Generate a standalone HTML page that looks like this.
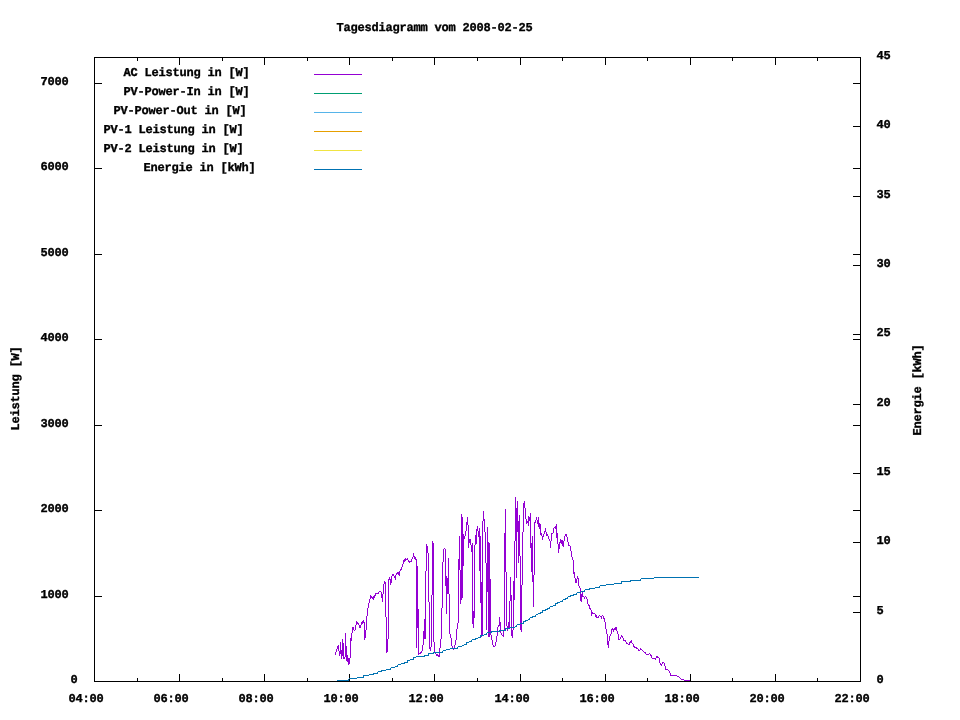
<!DOCTYPE html>
<html lang="de"><head><meta charset="utf-8"><title>Tagesdiagramm vom 2008-02-25</title>
<style>
html,body{margin:0;padding:0;background:#fff;}
body{width:960px;height:720px;overflow:hidden;}
svg{display:block;}
text{font-family:"Liberation Mono","DejaVu Sans Mono",monospace;font-weight:bold;font-size:12px;letter-spacing:-0.2012px;fill:#000;white-space:pre;text-rendering:geometricPrecision;stroke:#000;stroke-width:0.35px;}
.ln{shape-rendering:crispEdges;fill:none;stroke-width:1;}
</style></head><body>
<svg width="960" height="720" viewBox="0 0 960 720">
<rect width="960" height="720" fill="#fff"/>
<path class="ln" stroke="#000" d="M94 57.5H861M94 681.5H861M94.5 57V682M860.5 57V682M94 681.5H102M853 681.5H861M94 596.5H102M853 596.5H861M94 510.5H102M853 510.5H861M94 425.5H102M853 425.5H861M94 339.5H102M853 339.5H861M94 254.5H102M853 254.5H861M94 168.5H102M853 168.5H861M94 83.5H102M853 83.5H861M853 681.5H861M853 612.5H861M853 542.5H861M853 473.5H861M853 404.5H861M853 334.5H861M853 265.5H861M853 196.5H861M853 126.5H861M853 57.5H861M94.5 674V682M94.5 57V65M137.5 678V682M137.5 57V61M179.5 674V682M179.5 57V65M222.5 678V682M222.5 57V61M264.5 674V682M264.5 57V65M307.5 678V682M307.5 57V61M349.5 674V682M349.5 57V65M392.5 678V682M392.5 57V61M434.5 674V682M434.5 57V65M477.5 678V682M477.5 57V61M520.5 674V682M520.5 57V65M562.5 678V682M562.5 57V61M605.5 674V682M605.5 57V65M647.5 678V682M647.5 57V61M690.5 674V682M690.5 57V65M732.5 678V682M732.5 57V61M775.5 674V682M775.5 57V65M817.5 678V682M817.5 57V61M860.5 674V682M860.5 57V65"/>
<path class="ln" stroke="#9400d3" d="M335.5 652V655M336.5 649V652M337.5 646V649M338.5 645V651M339.5 651V656M340.5 642V654M341.5 650V659M342.5 639V656M343.5 643V659M344.5 657V659M345.5 633V657M346.5 646V661M347.5 655V662M348.5 658V665M349.5 658V664M350.5 638V658M351.5 633V641M352.5 627V633M353.5 627V630M354.5 630V631M355.5 625V630M356.5 621V625M357.5 622V624M358.5 623V625M359.5 625V628M360.5 625V628M361.5 622V625M362.5 621V624M363.5 620V623M364.5 622V640M365.5 630V638M366.5 616V630M367.5 608V616M368.5 603V608M369.5 599V603M370.5 595V599M371.5 596V598M372.5 597V599M373.5 596V600M374.5 595V598M375.5 593V596M376.5 593V594M377.5 593V594M378.5 592V594M379.5 591V592M380.5 591V592M381.5 592V598M382.5 594V602M383.5 584V594M384.5 581V584M385.5 582V617M386.5 617V653M387.5 639V652M388.5 579V639M389.5 577V580M390.5 579V585M391.5 576V583M392.5 574V576M393.5 574V576M394.5 576V578M395.5 575V580M396.5 573V575M397.5 572V574M398.5 572V575M399.5 571V576M400.5 569V571M401.5 567V570M402.5 564V567M403.5 560V564M404.5 559V562M405.5 558V561M406.5 559V560M407.5 558V560M408.5 560V562M409.5 561V563M410.5 561V562M411.5 559V562M412.5 557V559M413.5 553V557M414.5 556V559M415.5 557V560M416.5 559V648M417.5 566V628M418.5 609V655M419.5 653V654M420.5 652V654M421.5 651V653M422.5 645V651M423.5 631V645M424.5 619V639M425.5 571V639M426.5 544V571M427.5 546V553M428.5 553V602M429.5 602V649M430.5 647V651M431.5 595V647M432.5 541V595M433.5 543V642M434.5 642V653M435.5 653V654M436.5 654V656M437.5 654V656M438.5 655V657M439.5 648V657M440.5 639V648M441.5 608V639M442.5 562V608M443.5 549V562M444.5 548V549M445.5 549V586M446.5 576V614M447.5 578V594M448.5 558V594M449.5 594V634M450.5 634V638M451.5 638V646M452.5 646V648M453.5 648V650M454.5 645V648M455.5 640V645M456.5 629V640M457.5 623V629M458.5 559V623M459.5 536V570M460.5 570V604M461.5 514V600M462.5 517V598M463.5 534V566M464.5 536V539M465.5 531V536M466.5 522V531M467.5 517V525M468.5 525V548M469.5 539V543M470.5 539V545M471.5 545V552M472.5 543V624M473.5 611V628M474.5 545V618M475.5 535V545M476.5 529V544M477.5 526V531M478.5 531V537M479.5 528V571M480.5 536V603M481.5 582V637M482.5 521V636M483.5 511V521M484.5 519V532M485.5 532V563M486.5 563V630M487.5 527V592M488.5 542V637M489.5 543V637M490.5 579V635M491.5 635V640M492.5 640V645M493.5 645V647M494.5 646V647M495.5 642V646M496.5 636V642M497.5 627V636M498.5 625V627M499.5 617V626M500.5 622V633M501.5 633V635M502.5 635V636M503.5 630V637M504.5 533V630M505.5 509V572M506.5 572V626M507.5 626V631M508.5 622V628M509.5 601V628M510.5 577V601M511.5 595V636M512.5 630V638M513.5 581V630M514.5 541V600M515.5 497V541M516.5 508V578M517.5 501V532M518.5 521V563M519.5 515V556M520.5 556V630M521.5 585V632M522.5 532V585M523.5 503V532M524.5 501V508M525.5 508V519M526.5 519V524M527.5 521V523M528.5 516V526M529.5 517V521M530.5 513V548M531.5 543V572M532.5 536V582M533.5 575V607M534.5 522V575M535.5 520V523M536.5 517V520M537.5 520V524M538.5 517V527M539.5 523V529M540.5 524V535M541.5 533V536M542.5 536V540M543.5 534V537M544.5 531V534M545.5 528V532M546.5 532V536M547.5 534V536M548.5 536V539M549.5 539V541M550.5 541V548M551.5 533V541M552.5 533V534M553.5 528V533M554.5 527V528M555.5 526V529M556.5 524V538M557.5 533V544M558.5 544V553M559.5 542V549M560.5 539V543M561.5 540V544M562.5 540V546M563.5 541V547M564.5 536V541M565.5 534V536M566.5 534V537M567.5 537V542M568.5 542V546M569.5 545V546M570.5 546V551M571.5 551V557M572.5 557V560M573.5 560V574M574.5 572V578M575.5 578V583M576.5 579V583M577.5 576V579M578.5 578V586M579.5 586V588M580.5 588V601M581.5 594V602M582.5 592V597M583.5 596V597M584.5 597V599M585.5 596V597M586.5 597V599M587.5 599V604M588.5 604V606M589.5 605V609M590.5 608V610M591.5 610V616M592.5 612V614M593.5 613V614M594.5 613V614M595.5 614V617M596.5 615V618M597.5 617V618M598.5 616V618M599.5 615V616M600.5 616V617M601.5 616V619M602.5 615V616M603.5 616V619M604.5 618V622M605.5 622V629M606.5 629V634M607.5 634V645M608.5 641V648M609.5 636V641M610.5 634V636M611.5 629V634M612.5 628V630M613.5 629V632M614.5 628V630M615.5 627V630M616.5 627V631M617.5 631V634M618.5 634V640M619.5 639V640M620.5 637V639M621.5 635V637M622.5 636V638M623.5 638V641M624.5 640V641M625.5 640V642M626.5 642V644M627.5 643V644M628.5 644V645M629.5 642V645M630.5 641V643M631.5 640V643M632.5 643V644M633.5 644V647M634.5 646V648M635.5 647V648M636.5 647V649M637.5 648V649M638.5 649V651M639.5 650V651M640.5 648V650M641.5 649V650M642.5 650V651M643.5 651V652M644.5 652V653M645.5 652V654M646.5 654V655M647.5 654V655M648.5 654V655M649.5 653V654M650.5 654V656M651.5 655V658M652.5 658V659M653.5 658V659M654.5 658V659M655.5 658V660M656.5 656V658M657.5 656V658M658.5 657V658M659.5 658V663M660.5 663V665M661.5 664V666M662.5 662V664M663.5 662V663M664.5 663V666M665.5 666V670M666.5 669V670M667.5 669V670M668.5 670V671M669.5 671V673M670.5 673V676M671.5 675V676M672.5 675V676M673.5 675V676M674.5 675V676M675.5 675V676M676.5 675V676M677.5 676V677M678.5 676V677M679.5 677V678M680.5 678V679M681.5 679V680M682.5 679V680M683.5 679V680M684.5 680V681M685.5 680V681M686.5 680V681M687.5 680V681M688.5 680V681M689.5 680V681"/>
<path class="ln" stroke="#0072b2" d="M337 680.5H349M348.5 679V680M349 678.5H357M357 677.5H364M363.5 676V677M363 675.5H369M369 674.5H374M373 673.5H378M377.5 672V673M378 671.5H382M381 670.5H386M386 669.5H391M390.5 668V669M391 667.5H395M395 666.5H398M397.5 665V666M398 664.5H401M401 663.5H405M404 662.5H408M407.5 661V662M407 660.5H410M410 659.5H414M413.5 658V659M413 657.5H416M416 656.5H425M424 655.5H429M428.5 654V655M428 653.5H434M433 652.5H443M442.5 651V652M443 650.5H446M446 649.5H450M450 648.5H458M457.5 647V648M458 646.5H462M462 645.5H464M464 644.5H467M466.5 643V644M466 642.5H469M469 641.5H472M471.5 640V641M472 639.5H476M475 638.5H478M478 637.5H481M480.5 636V637M480 635.5H484M484 634.5H487M486.5 633V634M487 632.5H492M491 631.5H500M499 630.5H506M505.5 629V630M505 628.5H510M510 627.5H515M515 626.5H517M516.5 625V626M517 624.5H520M520 623.5H524M523.5 622V623M523 621.5H526M525 620.5H528M528 619.5H530M529.5 618V619M530 617.5H533M532 616.5H536M535.5 615V616M536 614.5H538M538 613.5H541M540 612.5H543M542.5 611V612M542 610.5H546M545 609.5H548M547 608.5H550M549.5 607V608M550 606.5H553M553 605.5H556M555.5 604V605M555 603.5H558M557 602.5H560M560 601.5H563M562.5 600V601M563 599.5H566M565 598.5H568M567.5 597V598M568 596.5H571M570 595.5H574M573 594.5H577M576.5 593V594M577 592.5H581M581 591.5H585M584.5 590V591M585 589.5H590M589 588.5H595M595 587.5H600M599.5 586V587M600 585.5H606M606 584.5H614M614 583.5H622M621.5 582V583M621 581.5H631M630 580.5H641M640.5 579V580M641 578.5H654M654 577.5H699"/>
<text x="123.40" y="76.00">AC Leistung in [W]</text>
<path class="ln" stroke="#9400d3" d="M314 74.5H362"/>
<text x="123.40" y="95.00">PV-Power-In in [W]</text>
<path class="ln" stroke="#009e73" d="M314 93.5H362"/>
<text x="113.40" y="114.00">PV-Power-Out in [W]</text>
<path class="ln" stroke="#56b4e9" d="M314 112.5H362"/>
<text x="103.40" y="133.00">PV-1 Leistung in [W]</text>
<path class="ln" stroke="#e69f00" d="M314 131.5H362"/>
<text x="103.40" y="152.00">PV-2 Leistung in [W]</text>
<path class="ln" stroke="#f0e442" d="M314 150.5H362"/>
<text x="143.40" y="171.00">Energie in [kWh]</text>
<path class="ln" stroke="#0072b2" d="M314 169.5H362"/>
<text x="336.40" y="31.00">Tagesdiagramm vom 2008-02-25</text>
<text x="70.40" y="683.00">0</text>
<text x="40.40" y="598.00">1000</text>
<text x="40.40" y="512.00">2000</text>
<text x="40.40" y="427.00">3000</text>
<text x="40.40" y="341.00">4000</text>
<text x="40.40" y="256.00">5000</text>
<text x="40.40" y="170.00">6000</text>
<text x="40.40" y="85.00">7000</text>
<text x="876.40" y="683.00">0</text>
<text x="876.40" y="614.00">5</text>
<text x="876.40" y="544.00">10</text>
<text x="876.40" y="475.00">15</text>
<text x="876.40" y="406.00">20</text>
<text x="876.40" y="336.00">25</text>
<text x="876.40" y="267.00">30</text>
<text x="876.40" y="198.00">35</text>
<text x="876.40" y="128.00">40</text>
<text x="876.40" y="59.00">45</text>
<text x="68.40" y="702.00">04:00</text>
<text x="153.40" y="702.00">06:00</text>
<text x="238.40" y="702.00">08:00</text>
<text x="323.40" y="702.00">10:00</text>
<text x="408.40" y="702.00">12:00</text>
<text x="494.40" y="702.00">14:00</text>
<text x="579.40" y="702.00">16:00</text>
<text x="664.40" y="702.00">18:00</text>
<text x="749.40" y="702.00">20:00</text>
<text x="834.40" y="702.00">22:00</text>
<text transform="translate(19.00 430.60) rotate(-90)">Leistung [W]</text>
<text transform="translate(921.00 435.60) rotate(-90)">Energie [kWh]</text>
</svg>
</body></html>
